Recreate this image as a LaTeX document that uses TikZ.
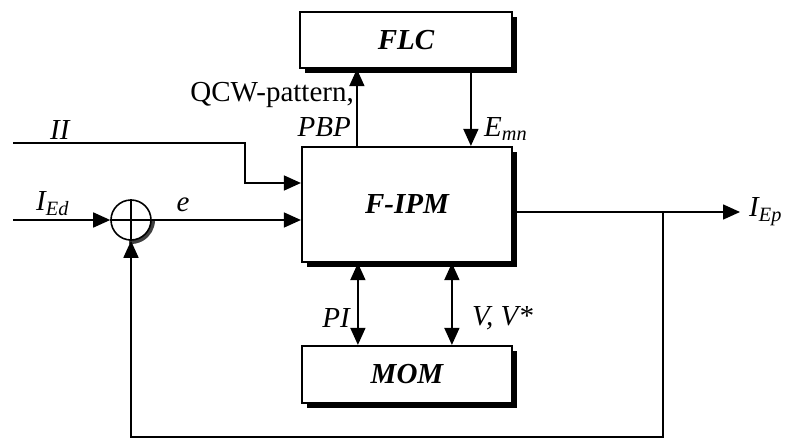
\documentclass[tikz,border=0pt]{standalone}
\usepackage{fontspec}
\setmainfont{Liberation Serif}
\usetikzlibrary{arrows.meta,positioning,calc,shadows}

\begin{document}
\begin{tikzpicture}[x=1pt,y=-1pt,
      blk/.style={draw=black,line width=2.2pt,fill=white,inner sep=0pt,font=\fontsize{29}{30}\selectfont\bfseries\itshape,
        general shadow={fill=black,shadow xshift=5pt,shadow yshift=-5pt}},
      sig/.style={line width=1.6pt,-{Triangle[length=17pt,width=15pt]}},
      bisig/.style={line width=1.6pt,{Triangle[length=17pt,width=15pt]}-{Triangle[length=17pt,width=15pt]}},
      lbl/.style={font=\fontsize{29}{34}\selectfont\itshape,inner sep=0pt}]
    \useasboundingbox (0,0) rectangle (786,441);
    \node[blk,minimum width=212pt,minimum height=56pt] (flc) at (406,40) {FLC};
    \node[blk,minimum width=210pt,minimum height=115pt] (fipm) at (407,204.5) {F-IPM};
    \node[blk,minimum width=210pt,minimum height=57pt] (mom) at (407,374.5) {MOM};
    \draw[line width=4pt,black!75] (131,220) ++(22pt,0pt) arc[start angle=0,end angle=-95,radius=22pt];
    \node[circle,draw,line width=1.6pt,minimum size=40pt,inner sep=0pt] (sum) at (131,220) {};
    \draw[line width=1.6pt] (sum.north) -- (sum.south) (sum.west) -- (sum.east);
    \coordinate (ied) at (13,220);
    \coordinate (ii) at (13,143);
    \coordinate (iibend) at (245,143);
    \coordinate (qcw) at ($(fipm.north west)+(56,0)$);
    \coordinate (emn) at ($(fipm.north west)+(170,0)$);
    \coordinate (pi) at ($(fipm.south west)+(57,0)$);
    \coordinate (vv) at ($(fipm.south west)+(151,0)$);
    \coordinate (tap) at (663,212);
    \coordinate (iep) at (740,212);
    \coordinate (fb) at (663,437);
    \draw[sig] (ied) -- (sum.west);
    \draw[sig] (sum.east) -- (sum.east -| fipm.west);
    \draw[sig] (ii) -- (iibend) |- ($(fipm.west)+(0,-21.5)$);
    \draw[sig] (qcw) -- (qcw |- flc.south);
    \draw[sig] (emn |- flc.south) -- (emn);
    \draw[bisig] (pi) -- (pi |- mom.north);
    \draw[bisig] (vv) -- (vv |- mom.north);
    \draw[sig] (tap -| fipm.east) -- (iep);
    \draw[sig] (tap) -- (fb) -| (sum.south);
    \node[lbl,anchor=south west] at (50,140) {II};
    \node[lbl,anchor=south west] at (36,216) {I\textsubscript{Ed}};
    \node[lbl] at (183,205) {e};
    \node[lbl,anchor=base east,font=\fontsize{29}{34}\selectfont] at (354,102) {QCW-pattern,};
    \node[lbl,anchor=base east] at (351,136) {PBP};
    \node[lbl,anchor=west] at (484,129) {E\textsubscript{mn}};
    \node[lbl,anchor=east] at (350,318) {PI};
    \node[lbl,anchor=west] at (472,318) {V, V*};
    \node[lbl,anchor=west] at (749,212) {I\textsubscript{Ep}};
\end{tikzpicture}
\end{document}
